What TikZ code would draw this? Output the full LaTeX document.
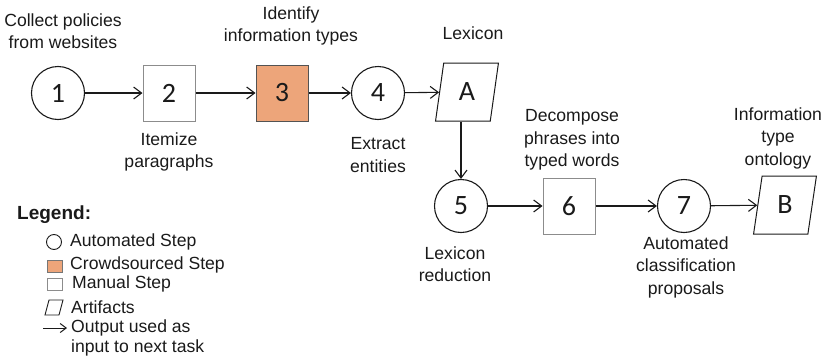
\documentclass[tikz,border=0pt]{standalone}
\usepackage{fontspec}
\setmainfont{Liberation Sans}
\newfontfamily\numfont{Carlito}
\usetikzlibrary{arrows.meta,shapes.geometric}
\definecolor{crowd}{HTML}{EDA57A}
\definecolor{ink}{HTML}{1A1A1A}
\definecolor{boxgray}{HTML}{8C8C8C}

\begin{document}
\begin{tikzpicture}[x=1pt,y=-1pt,
  every node/.style={text=ink},
  lbl/.style={align=center, font=\fontsize{17.6}{22.5}\selectfont, inner sep=0pt},
  leg/.style={anchor=west, align=left, font=\fontsize{17.6}{20.5}\selectfont, inner sep=0pt},
  numtxt/.style={font=\numfont\fontsize{28}{28}\selectfont},
  autostep/.style={circle, draw=ink, line width=1.1pt, minimum size=53pt, inner sep=0pt, numtxt},
  manualstep/.style={rectangle, draw=boxgray, line width=1pt, minimum width=52pt, minimum height=56pt, inner sep=0pt, numtxt},
  crowdstep/.style={manualstep, fill=crowd, draw=ink!75},
  artifact/.style={trapezium, trapezium left angle=81, trapezium right angle=99,
    trapezium stretches=true, draw=ink, line width=1pt,
    minimum width=63pt, minimum height=58pt, inner sep=0pt, numtxt},
  flow/.style={draw=ink, line width=1.1pt, -{Straight Barb[length=8pt,width=12pt,line width=1.1pt]}}
]
\useasboundingbox (0,0) rectangle (824,359);

% process steps
\node[autostep]   (s1) at (58,93)  {1};
\node[manualstep] (s2) at (169,93) {2};
\node[crowdstep]  (s3) at (282,93) {3};
\node[autostep]   (s4) at (378,93) {4};
\node[artifact]   (A)  at (467,92) {A};
\node[autostep]   (s5) at (461,206) {5};
\node[manualstep] (s6) at (569,206) {6};
\node[autostep]   (s7) at (684,206) {7};
\node[artifact]   (B)  at (785,205) {B};

% connectors
\draw[flow] (s1) -- (s2);
\draw[flow] (s2) -- (s3);
\draw[flow] (s3) -- (s4);
\draw[flow] (s4) -- (A);
\draw[flow] (A.south -| s5) -- (s5);
\draw[flow] (s5) -- (s6);
\draw[flow] (s6) -- (s7);
\draw[flow] (s7) -- (B);

% step descriptions
\node[lbl] (t1) at (63,31)  {Collect policies\\from websites};
\node[lbl] (t2) at (169,152) {Itemize\\paragraphs};
\node[lbl] (t3) at (291,26) {Identify\\information types};
\node[lbl] (t4) at (378,155) {Extract\\entities};
\node[lbl] (tA) at (473,33) {Lexicon};
\node[lbl] (t5) at (455,264) {Lexicon\\reduction};
\node[lbl] (t6) at (572,140) {Decompose\\phrases into\\typed words};
\node[lbl] (t7) at (686,267) {Automated\\classification\\proposals};
\node[lbl] (tB) at (778,138) {Information\\type\\ontology};

% legend
\node[anchor=west, inner sep=0pt, font=\bfseries\fontsize{19}{20}\selectfont] (lg) at (17,215) {Legend:};
\node[circle, draw=ink, line width=0.9pt, minimum size=15pt, inner sep=0pt] (lgc) at (54,242) {};
\node[leg] (lgct) at (70,242) {Automated Step};
\node[rectangle, fill=crowd, draw=ink!60, line width=0.7pt, minimum width=15pt, minimum height=12pt, inner sep=0pt] (lgo) at (54.5,266.5) {};
\node[leg] (lgot) at (70,265) {Crowdsourced Step};
\node[rectangle, draw=boxgray, line width=0.9pt, minimum width=15pt, minimum height=12pt, inner sep=0pt] (lgm) at (54.5,284) {};
\node[leg] (lgmt) at (72,284) {Manual Step};
\draw[draw=ink, line width=0.9pt, line join=miter] (49,300) -- (63,300) -- (59,315) -- (45,315) -- cycle;
\node[leg] (lgat) at (71,307) {Artifacts};
\coordinate (lgs) at (43,328);
\coordinate (lge) at (67,328);
\draw[draw=ink, line width=1pt, -{Straight Barb[length=6pt,width=9pt,line width=1pt]}] (lgs) -- (lge);
\node[leg] (lgft) at (71,338) {Output used as\\input to next task};
\end{tikzpicture}
\end{document}
